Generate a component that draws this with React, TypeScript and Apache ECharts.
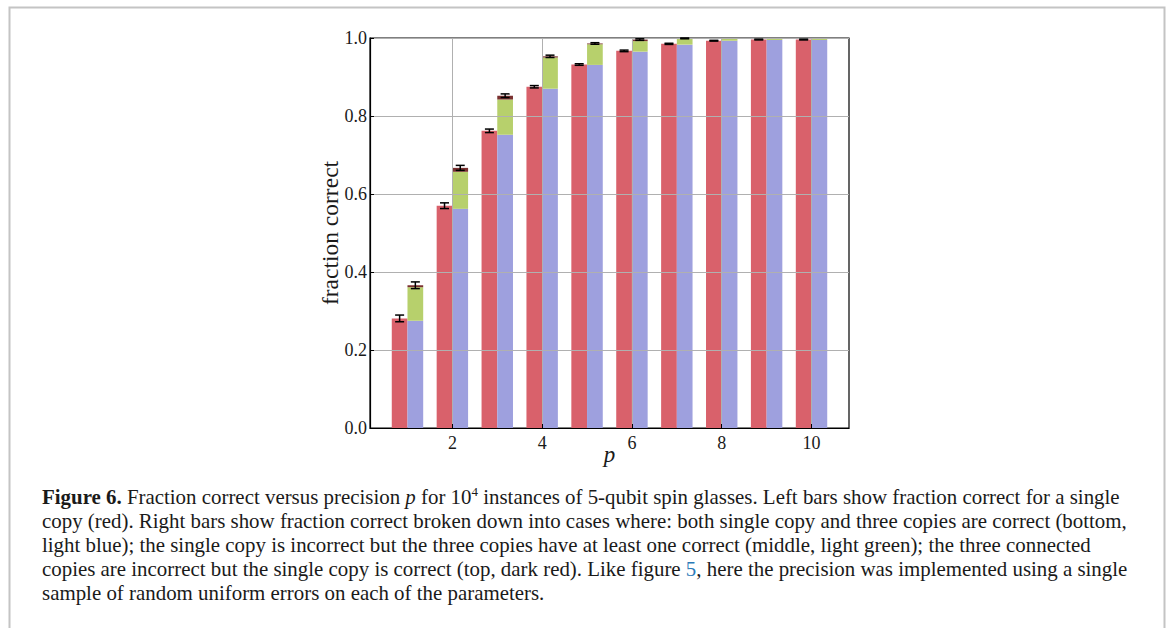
import React, { useEffect, useRef } from "react";
import * as echarts from "echarts";

const pValues = [1, 2, 3, 4, 5, 6, 7, 8, 9, 10];
const singleCorrect = [0.281, 0.570, 0.762, 0.875, 0.932, 0.967, 0.985, 0.993, 0.996, 0.996];
const singleErr = [0.0086, 0.0073, 0.0045, 0.003, 0.002, 0.002, 0.0015, 0.001, 0.001, 0.001];
const bothCorrect = [0.275, 0.562, 0.752, 0.870, 0.931, 0.965, 0.983, 0.993, 0.995, 0.995];
const onlyThreeCorrect = [0.086, 0.095, 0.090, 0.080, 0.053, 0.027, 0.015, 0.006, 0.003, 0.003];
const onlySingleCorrect = [0.005, 0.010, 0.010, 0.003, 0.002, 0.004, 0.001, 0.0, 0.0, 0.0];
const stackErr = [0.0086, 0.0064, 0.0047, 0.003, 0.002, 0.002, 0.001, 0.0, 0.0, 0.0];
const xTicks = [2, 4, 6, 8, 10];
const yTicks = [0, 0.2, 0.4, 0.6, 0.8, 1.0];

const captionLines = [
  "{b|Figure 6.} Fraction correct versus precision {i|p} for 10{sup|4} instances of 5-qubit spin glasses. Left bars show fraction correct for a single",
  "copy (red). Right bars show fraction correct broken down into cases where: both single copy and three copies are correct (bottom,",
  "light blue); the single copy is incorrect but the three copies have at least one correct (middle, light green); the three connected",
  "copies are incorrect but the single copy is correct (top, dark red). Like figure {l|5}, here the precision was implemented using a single",
  "sample of random uniform errors on each of the parameters.",
];

const RED = "#d9616b";
const BLUE = "#9ea0de";
const GREEN = "#b7d06c";
const DARK = "#7a3030";
const BAR_W = 0.35;
const SERIF = "'Liberation Serif', 'Times New Roman', serif";

function rectItem(side: number, color: string) {
  return (params: any, api: any) => {
    const x = api.value(0);
    const lo = api.value(1);
    const hi = api.value(2);
    const x0 = side < 0 ? x - BAR_W : x;
    const p0 = api.coord([x0, hi]);
    const p1 = api.coord([x0 + BAR_W, lo]);
    return {
      type: "rect",
      shape: { x: p0[0], y: p0[1], width: p1[0] - p0[0], height: p1[1] - p0[1] },
      style: { fill: color },
    };
  };
}

function errItem(side: number) {
  return (params: any, api: any) => {
    const x = api.value(0) + side * BAR_W / 2;
    const c = api.value(1);
    const e = api.value(2);
    if (!e) return null;
    const top = api.coord([x, c + e]);
    const bot = api.coord([x, c - e]);
    const hw = 4.5;
    const st = { stroke: "#000", lineWidth: 1.5 };
    return {
      type: "group",
      children: [
        { type: "line", shape: { x1: top[0], y1: top[1], x2: bot[0], y2: bot[1] }, style: st },
        { type: "line", shape: { x1: top[0] - hw, y1: top[1], x2: top[0] + hw, y2: top[1] }, style: st },
        { type: "line", shape: { x1: bot[0] - hw, y1: bot[1], x2: bot[0] + hw, y2: bot[1] }, style: st },
      ],
    };
  };
}

export default function App() {
  const ref = useRef<HTMLDivElement>(null);
  useEffect(() => {
    if (!ref.current) return;
    const chart = echarts.init(ref.current, null, { renderer: "svg" });

    const redData = pValues.map((p, i) => [p, 0, singleCorrect[i]]);
    const blueData = pValues.map((p, i) => [p, 0, bothCorrect[i]]);
    const greenData = pValues.map((p, i) => [p, bothCorrect[i], bothCorrect[i] + onlyThreeCorrect[i]]);
    const darkData = pValues.map((p, i) => [
      p,
      bothCorrect[i] + onlyThreeCorrect[i],
      bothCorrect[i] + onlyThreeCorrect[i] + onlySingleCorrect[i],
    ]);
    const redErr = pValues.map((p, i) => [p, singleCorrect[i], singleErr[i]]);
    const stackErrData = pValues.map((p, i) => [
      p,
      bothCorrect[i] + onlyThreeCorrect[i] + onlySingleCorrect[i],
      stackErr[i],
    ]);

    const base = { fontFamily: SERIF, fontSize: 20.9, fill: "#1a1a1a" };
    const rich = {
      b: { ...base, fontWeight: "bold" },
      i: { ...base, fontStyle: "italic" },
      sup: { ...base, fontSize: 13, verticalAlign: "top", lineHeight: 24 },
      l: { ...base, fill: "#2a7ab8" },
    };

    const custom = (name: string, data: any[], renderItem: any, z: number) => ({
      type: "custom",
      name,
      data,
      renderItem,
      z,
      clip: false,
      encode: { x: 0, y: [1, 2] },
    });

    chart.setOption({
      animation: false,
      grid: {
        left: 370,
        top: 38,
        width: 479,
        height: 390,
        show: true,
        borderColor: "#000",
        borderWidth: 1.2,
        backgroundColor: "transparent",
      },
      xAxis: {
        type: "value",
        min: 0.165,
        max: 10.835,
        z: 5,
        name: "p",
        nameLocation: "middle",
        nameGap: 15,
        nameMoveOverlap: false,
        nameTextStyle: { fontFamily: SERIF, fontStyle: "italic", fontSize: 23, color: "#1a1a1a" },
        axisLine: { show: true, onZero: false, lineStyle: { color: "#000", width: 1.2 } },
        axisTick: { show: true, inside: true, length: 4, customValues: xTicks, lineStyle: { color: "#000" } },
        axisLabel: {
          customValues: xTicks,
          fontFamily: SERIF,
          fontSize: 18,
          color: "#1a1a1a",
          margin: 6,
        },
        splitLine: { show: true, lineStyle: { color: "#b0b0b0", width: 1 } },
      },
      yAxis: {
        type: "value",
        min: 0,
        max: 1,
        interval: 0.2,
        z: 5,
        name: "fraction correct",
        nameLocation: "middle",
        nameGap: 28,
        nameMoveOverlap: false,
        nameRotate: 90,
        nameTextStyle: { fontFamily: SERIF, fontSize: 23.5, color: "#1a1a1a" },
        axisLine: { show: true, lineStyle: { color: "#000", width: 1.2 } },
        axisTick: { show: true, inside: true, length: 4, lineStyle: { color: "#000" } },
        axisLabel: {
          fontFamily: SERIF,
          fontSize: 18,
          color: "#1a1a1a",
          margin: 3,
          formatter: (v: number) => (yTicks.some((t) => Math.abs(t - v) < 1e-9) ? v.toFixed(1) : ""),
        },
        splitLine: { show: true, lineStyle: { color: "#b0b0b0", width: 1 } },
      },
      series: [
        custom("single copy", redData, rectItem(-1, RED), 2),
        custom("both correct", blueData, rectItem(1, BLUE), 2),
        custom("three correct only", greenData, rectItem(1, GREEN), 2),
        custom("single correct only", darkData, rectItem(1, DARK), 2),
        custom("single err", redErr, errItem(-1), 6),
        custom("stack err", stackErrData, errItem(1), 6),
      ],
      graphic: [
        {
          type: "rect",
          left: 7,
          top: 5,
          shape: { x: 0, y: 0, width: 1155, height: 640 },
          style: { fill: "none", stroke: "#c4c4c4", lineWidth: 2 },
          silent: true,
        },
        ...captionLines.map((t, k) => ({
          type: "text",
          x: 42,
          y: 497 + k * 24,
          style: {
            text: t,
            ...base,
            rich,
            verticalAlign: "middle",
            align: "left",
          },
        })),
      ],
    });
    return () => chart.dispose();
  }, []);
  return (
    <div
      ref={ref}
      style={{ position: "fixed", left: 0, top: 0, width: 1167, height: 628, background: "#fff" }}
    />
  );
}
